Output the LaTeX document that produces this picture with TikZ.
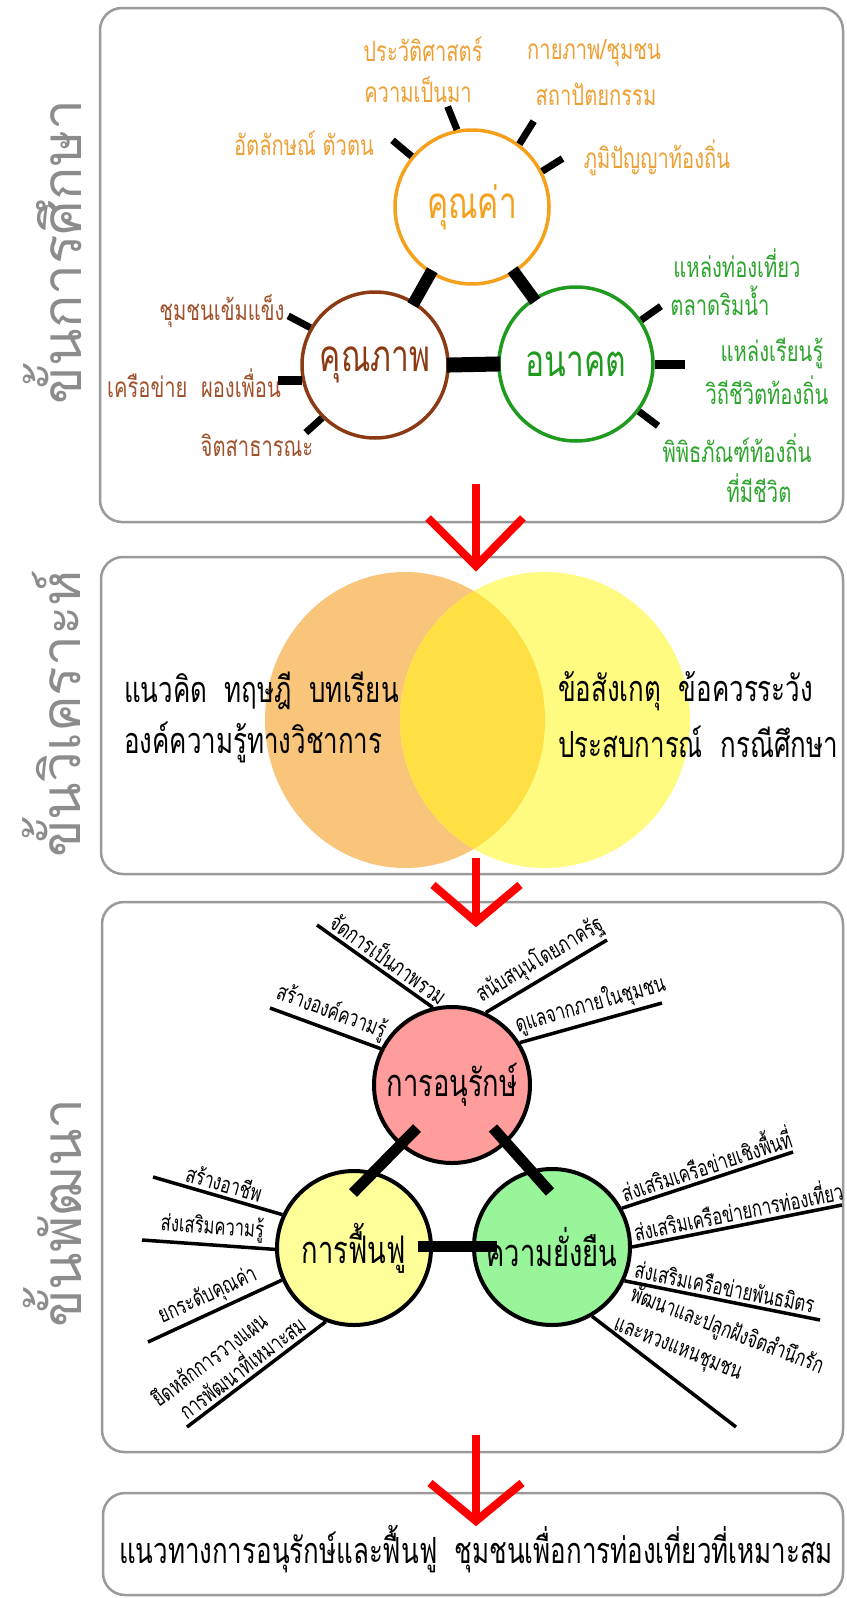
\documentclass[tikz,border=0pt]{standalone}
\usepackage{fontspec}
\usetikzlibrary{calc}
\newfontfamily\thai[Script=Thai]{Loma}
\newfontfamily\thaic[Script=Thai, FakeStretch=0.72]{Loma}
\definecolor{boxgray}{HTML}{9A9A9A}
\definecolor{titlegray}{HTML}{8C8C8C}
\definecolor{vorange}{HTML}{F5A11C}
\definecolor{vlabel}{HTML}{EFA035}
\definecolor{qbrown}{HTML}{8B3A14}
\definecolor{qlabel}{HTML}{A0522D}
\definecolor{fgreen}{HTML}{1E9A1E}
\definecolor{flabel}{HTML}{2EA52E}
\definecolor{venL}{HTML}{F9C57B}
\definecolor{venR}{HTML}{FFFB80}
\definecolor{venM}{HTML}{FEE045}
\definecolor{pinkC}{HTML}{FF9C9C}
\definecolor{yelC}{HTML}{FFFF99}
\definecolor{grnC}{HTML}{99F599}
\definecolor{arrred}{HTML}{FF0000}
\tikzset{
  panel/.style={draw=boxgray, line width=2.5pt, rounded corners=22pt},
  title/.style={text=titlegray, rotate=90, font=\thai\fontsize{55}{55}\selectfont, inner sep=0pt},
  redarrow/.style={draw=arrred, line width=8pt},
  tickline/.style={line width=7pt, black},
  barline/.style={line width=12pt, black},
  bar3/.style={line width=11pt, black},
  spoke/.style={line width=3.5pt, black},
  lab1/.style={font=\thaic\fontsize{28}{28}\selectfont, inner sep=1pt},
  clab/.style={font=\thaic\fontsize{44}{44}\selectfont},
  clab3/.style={font=\thaic\fontsize{38}{38}\selectfont},
  ring/.style={circle, line width=3.5pt, inner sep=0pt},
  ball/.style={circle, draw=black, line width=4pt, inner sep=0pt},
  slab/.style={font=\thaic\fontsize{23}{23}\selectfont, inner sep=0pt},
  onspoke/.style={slab, sloped, above=3pt},
  vtext/.style={font=\thaic\fontsize{36}{36}\selectfont, anchor=west, inner sep=0pt},
}
\begin{document}
\begin{tikzpicture}[x=1pt,y=1pt]
\useasboundingbox (0,0) rectangle (846,-1598);
\fill[white] (0,0) rectangle (846,-1598);

% panels
\draw[panel] (100,-8) rectangle (843,-522);
\draw[panel] (101,-557) rectangle (843,-874);
\draw[panel] (102,-902) rectangle (843,-1452);
\draw[panel] (103,-1493) rectangle (843,-1595);

% titles
\node[title] (t1) at (52,-252) {ขั้นการศึกษา};
\node[title] (t2) at (52,-714) {ขั้นวิเคราะห์};
\node[title] (t3) at (52,-1213) {ขั้นพัฒนา};

% ===== section 1 =====
\node[ring, draw=vorange, text=vorange, minimum size=154pt, clab] (cv) at (472,-207) {คุณค่า};
\node[ring, draw=qbrown, text=qbrown, minimum size=146pt, clab] (cq) at (375,-365) {คุณภาพ};
\node[ring, draw=fgreen, text=fgreen, minimum size=154pt, clab] (cf) at (576,-364) {อนาคต};

\draw[barline, shorten <=-4pt, shorten >=-4pt] (cv.238) -- (cq.58);
\draw[barline, shorten <=-4pt, shorten >=-4pt] (cv.303) -- (cf.123);
\draw[line width=15pt, shorten <=-3pt, shorten >=-3pt] (cq.0) -- (cf.180);

% ticks
\draw[tickline] (cv.140) -- ++(140:25);
\draw[tickline] (cv.101) -- ++(112:25);
\draw[tickline] (cv.53) -- ++(58:27);
\draw[tickline] (cv.27) -- ++(32:24);
\draw[tickline] (cq.150) -- ++(152:25);
\draw[line width=9pt] (cq.192) -- ++(-24,0);
\draw[tickline] (cq.225) -- ++(222:22);
\draw[tickline] (cf.34) -- ++(35:24);
\draw[line width=9pt] (cf.0) -- ++(30,0);
\draw[tickline] (cf.-37) -- ++(-37:24);

% labels
\node[lab1, text=vlabel] (l1) at (423,-49) {ประวัติศาสตร์};
\node[lab1, text=vlabel] (l2) at (418,-90) {ความเป็นมา};
\node[lab1, text=vlabel] (l3) at (594,-53) {กายภาพ/ชุมชน};
\node[lab1, text=vlabel] (l4) at (596,-94) {สถาปัตยกรรม};
\node[lab1, text=vlabel] (l5) at (304,-143) {อัตลักษณ์ ตัวตน};
\node[lab1, text=vlabel] (l6) at (657,-158) {ภูมิปัญญาท้องถิ่น};
\node[lab1, text=flabel] (l7) at (737,-263) {แหล่งท่องเที่ยว};
\node[lab1, text=flabel] (l8) at (720,-301) {ตลาดริมน้ำ};
\node[lab1, text=flabel] (l9) at (772,-353) {แหล่งเรียนรู้};
\node[lab1, text=flabel] (l10) at (767,-390) {วิถีชีวิตท้องถิ่น};
\node[lab1, text=flabel] (l11) at (737,-448) {พิพิธภัณฑ์ท้องถิ่น};
\node[lab1, text=flabel] (l12) at (759,-488) {ที่มีชีวิต};
\node[lab1, text=qlabel] (l13) at (222,-311) {ชุมชนเข้มแข็ง};
\node[lab1, text=qlabel] (l14) at (194,-383) {เครือข่าย\ \ ผองเพื่อน};
\node[lab1, text=qlabel] (l15) at (257,-445) {จิตสาธารณะ};

% ===== section 2 =====
\fill[venL] (405,-720) ellipse [x radius=140, y radius=148];
\fill[venR] (545,-720) ellipse [x radius=145, y radius=148];
\begin{scope}
  \clip (405,-720) ellipse [x radius=140, y radius=148];
  \fill[venM] (545,-720) ellipse [x radius=145, y radius=148];
\end{scope}
\node[vtext] (v1) at (124,-691) {แนวคิด\ \ ทฤษฎี\ \ บทเรียน};
\node[vtext] (v2) at (124,-742) {องค์ความรู้ทางวิชาการ};
\node[vtext] (v3) at (558,-691) {ข้อสังเกตุ\ \ ข้อควรระวัง};
\node[vtext] (v4) at (558,-742) {ประสบการณ์\ \ กรณีศึกษา};

% ===== section 3 =====
\node[ball, fill=pinkC, minimum size=156pt, clab3] (c1) at (452,-1085) {การอนุรักษ์};
\node[ball, fill=yelC, minimum size=154pt, clab3] (c2) at (354,-1248) {การฟื้นฟู};
\node[ball, fill=grnC, minimum size=156pt, clab3] (c3) at (552,-1247) {ความยั่งยืน};

\draw[bar3] ($(c1)+(-35,-43)$) -- ($(c2)+(-1,55)$);
\draw[bar3] ($(c1)+(41,-43)$) -- ($(c3)+(-2,55)$);
\draw[bar3] ($(c2)+(64,2)$) -- ($(c3)+(-55,1)$);

% spokes of c1
\coordinate (a1) at ($(c1)+(-182,77)$);
\coordinate (a2) at ($(c1)+(-135,160)$);
\coordinate (a3) at ($(c1)+(155,145)$);
\coordinate (a4) at ($(c1)+(210,82)$);
\draw[spoke] (a1) -- (c1.153) node[onspoke, pos=0.5] (a1t) {สร้างองค์ความรู้};
\draw[spoke] (a2) -- (c1.104) node[onspoke, pos=0.55] (a2t) {จัดการเป็นภาพรวม};
\draw[spoke] (c1.65) -- (a3) node[onspoke, pos=0.52] (a3t) {สนับสนุนโดยภาครัฐ};
\draw[spoke] (c1.32) -- (a4) node[onspoke, pos=0.53] (a4t) {ดูแลจากภายในชุมชน};

% spokes of c2
\coordinate (b1) at ($(c2)+(-201,71)$);
\coordinate (b2) at ($(c2)+(-212,8)$);
\coordinate (b3) at ($(c2)+(-206,-94)$);
\coordinate (b4) at ($(c2)+(-167,-179)$);
\draw[spoke] (b1) -- (c2.155) node[onspoke, pos=0.52] (b1t) {สร้างอาชีพ};
\draw[spoke] (b2) -- (c2.181) node[onspoke, pos=0.52] (b2t) {ส่งเสริมความรู้};
\draw[spoke] (b3) -- (c2.204) node[onspoke, pos=0.5] (b3t) {ยกระดับคุณค่า};
\draw[spoke] (b4) -- (c2.249) node[onspoke, pos=0.42, align=left] (b4t) {ยึดหลักการวางแผน\\[2pt]\hspace*{14pt}การพัฒนาที่เหมาะสม};

% spokes of c3
\coordinate (d1) at ($(c3)+(241,95)$);
\coordinate (d2) at ($(c3)+(290,42)$);
\coordinate (d3) at ($(c3)+(268,-73)$);
\coordinate (d4) at ($(c3)+(184,-180)$);
\draw[spoke] (c3.29) -- (d1) node[onspoke, pos=0.52] (d1t) {ส่งเสริมเครือข่ายเชิงพื้นที่};
\draw[spoke] (c3.0) -- (d2) node[onspoke, pos=0.52] (d2t) {ส่งเสริมเครือข่ายการท่องเที่ยว};
\draw[spoke] (c3.-25) -- (d3) node[onspoke, pos=0.5] (d3t) {ส่งเสริมเครือข่ายพันธมิตร};
\draw[spoke] (c3.-60) -- (d4);
\node[slab, rotate=-21] (e1) at (727,-1331) {พัฒนาและปลูกฝังจิตสำนึกรัก};
\node[slab, rotate=-22] (e2) at (677,-1351) {และหวงแหนชุมชน};

% ===== section 4 =====
\node[font=\thaic\fontsize{36}{36}\selectfont] (fin) at (476,-1549) {แนวทางการอนุรักษ์และฟื้นฟู\ \ ชุมชนเพื่อการท่องเที่ยวที่เหมาะสม};

% ===== red arrows =====
\coordinate (r1a) at (476,-484); \coordinate (r1t) at (476,-566);
\draw[redarrow] (r1a) -- (r1t);
\draw[redarrow, line join=miter] (428,-518) -- (r1t) -- (523,-518);
\coordinate (r2a) at (476,-858); \coordinate (r2t) at (476,-922);
\draw[redarrow] (r2a) -- (r2t);
\draw[redarrow, line join=miter] (433,-885) -- (r2t) -- (520,-885);
\coordinate (r3a) at (476,-1435); \coordinate (r3t) at (476,-1521);
\draw[redarrow] (r3a) -- (r3t);
\draw[redarrow, line join=miter] (430,-1483) -- (r3t) -- (522,-1483);
\end{tikzpicture}
\end{document}
